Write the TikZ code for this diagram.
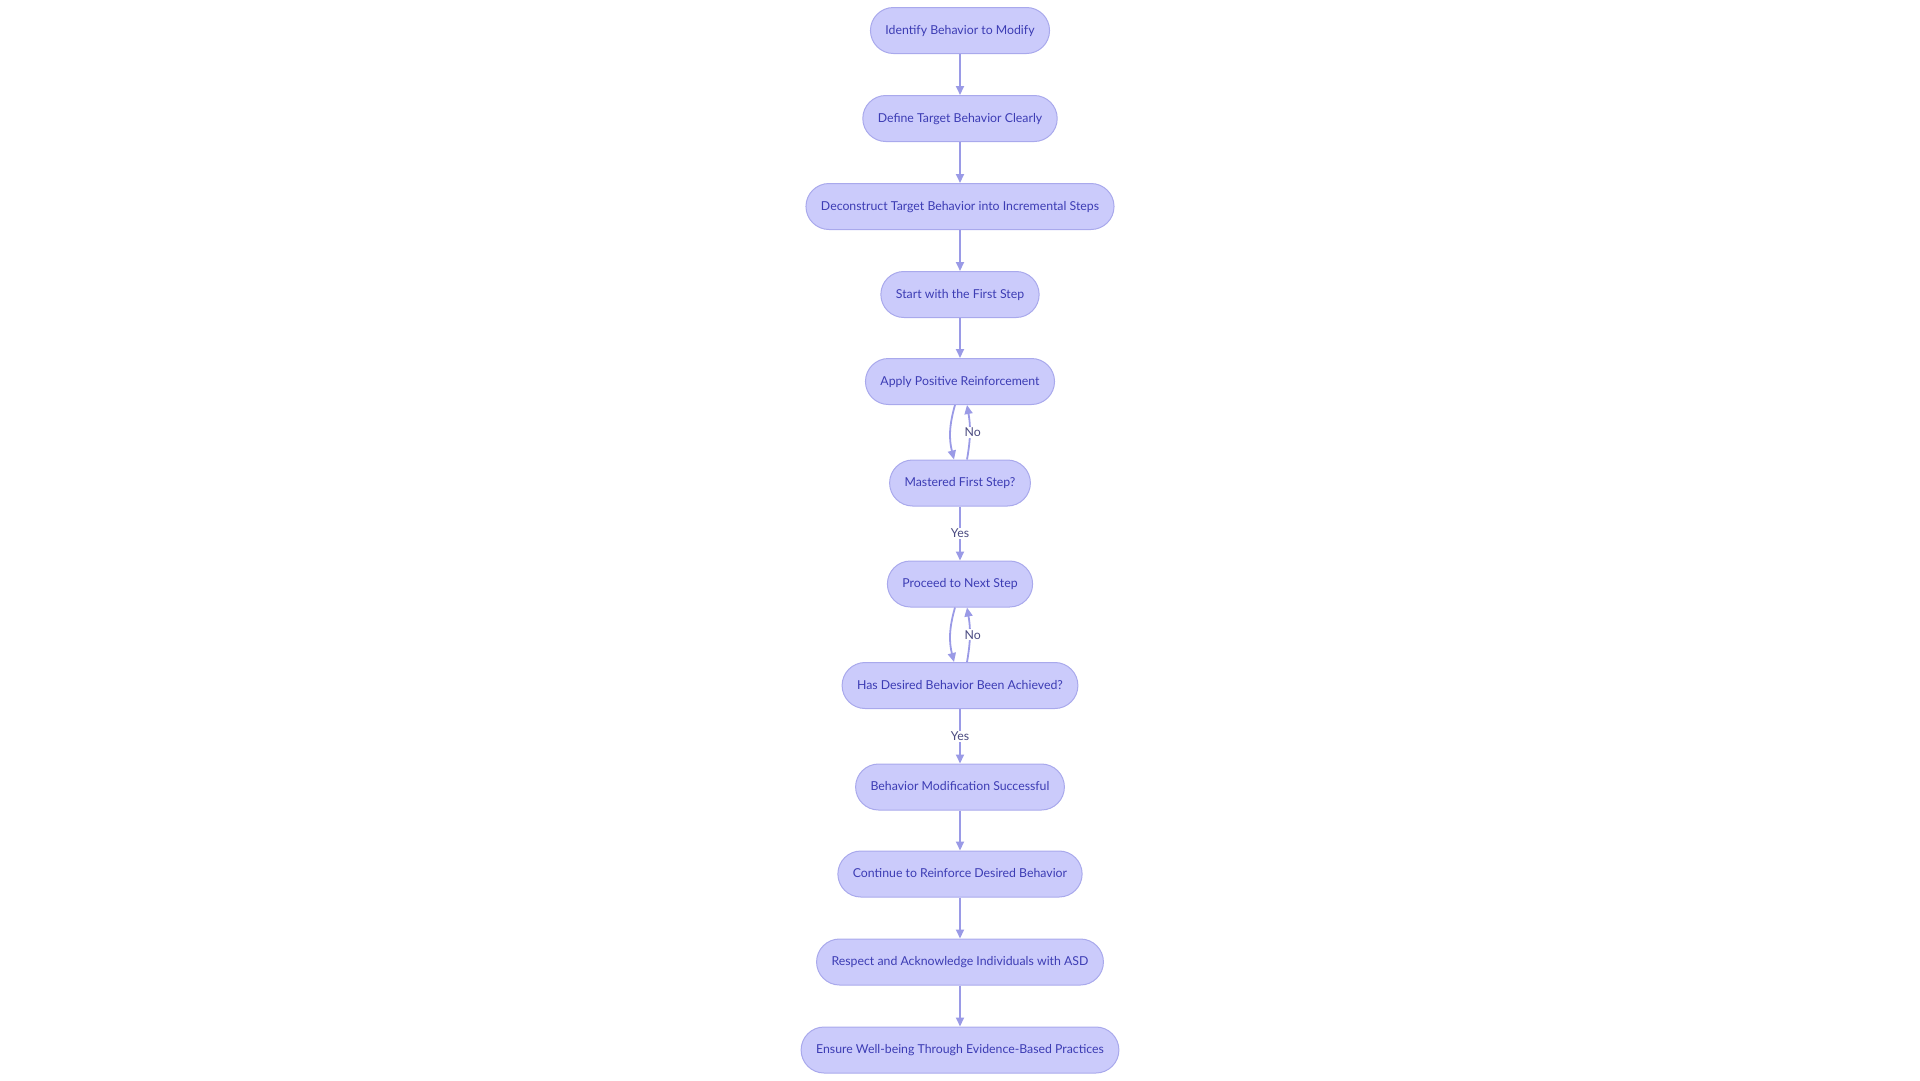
\documentclass[tikz,border=0pt]{standalone}
\usepackage{fontspec}
\setmainfont{Lato}
\usetikzlibrary{positioning,arrows.meta}
\definecolor{boxfill}{HTML}{CBCBFB}
\definecolor{boxline}{HTML}{A9A9EC}
\definecolor{boxtext}{HTML}{3C3CB4}
\definecolor{flowline}{HTML}{9A9AE6}
\definecolor{labeltext}{HTML}{4A4A80}

\begin{document}
\begin{tikzpicture}[%
  x=1pt, y=1pt,
  node distance=88pt,
  box/.style={rectangle, rounded corners=23pt, draw=boxline, fill=boxfill, text=boxtext,
    line width=1pt, minimum height=46pt, inner xsep=15pt, text height=8.5pt, text depth=1.5pt},
  flow/.style={draw=flowline, line width=1.8pt, -{Triangle[length=9pt,width=8pt]}},
  tag/.style={fill=white, text=labeltext, inner sep=1pt},
  ]
  \useasboundingbox (0,0) rectangle (1920,-1080);
  {\fontsize{12.3}{14}\selectfont
    \node[box] (identify) at (960,-30.5) {Identify Behavior to Modify};
    \node[box, below of=identify] (define) {Define Target Behavior Clearly};
    \node[box, below of=define] (deconstruct) {Deconstruct Target Behavior into Incremental Steps};
    \node[box, below of=deconstruct] (first) {Start with the First Step};
    \node[box, below of=first, node distance=87pt] (apply) {Apply Positive Reinforcement};
    \node[box, below of=apply, node distance=101.5pt] (mastered) {Mastered First Step?};
    \node[box, below of=mastered, node distance=101pt] (proceed) {Proceed to Next Step};
    \node[box, below of=proceed, node distance=101.5pt] (achieved) {Has Desired Behavior Been Achieved?};
    \node[box, below of=achieved, node distance=101.5pt] (success) {Behavior Modification Successful};
    \node[box, below of=success, node distance=87pt] (continue) {Continue to Reinforce Desired Behavior};
    \node[box, below of=continue] (respect) {Respect and Acknowledge Individuals with ASD};
    \node[box, below of=respect] (ensure) {Ensure Well-being Through Evidence-Based Practices};
    \draw[flow] (identify) -- (define);
    \draw[flow] (define) -- (deconstruct);
    \draw[flow] (deconstruct) -- (first);
    \draw[flow] (first) -- (apply);
    \draw[flow] ([xshift=-5pt]apply.south) to[bend right=15] ([xshift=-6pt]mastered.north);
    \draw[flow] ([xshift=7pt]mastered.north) to[bend right=10] node[tag, xshift=3pt] {No} ([xshift=7pt]apply.south);
    \draw[flow] (mastered) -- node[tag] {Yes} (proceed);
    \draw[flow] ([xshift=-5pt]proceed.south) to[bend right=15] ([xshift=-6pt]achieved.north);
    \draw[flow] ([xshift=7pt]achieved.north) to[bend right=10] node[tag, xshift=3pt] {No} ([xshift=7pt]proceed.south);
    \draw[flow] (achieved) -- node[tag] {Yes} (success);
    \draw[flow] (success) -- (continue);
    \draw[flow] (continue) -- (respect);
    \draw[flow] (respect) -- (ensure);
  }
\end{tikzpicture}
\end{document}
